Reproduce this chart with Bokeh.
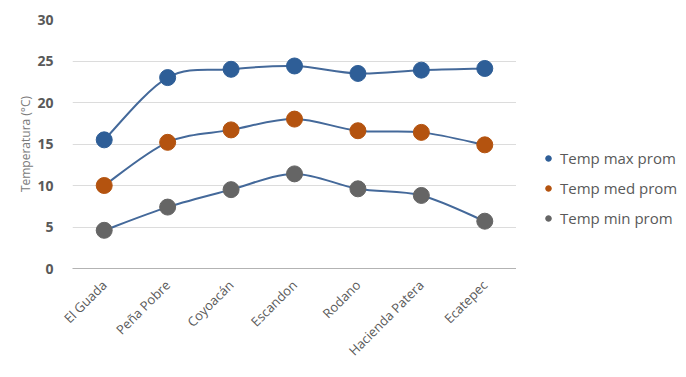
from bokeh.plotting import figure
from bokeh.layouts import row
from bokeh.models import Range1d, FixedTicker, Legend, LegendItem, ColumnDataSource
from bokeh.embed import file_html
from bokeh.resources import INLINE
import math

sites = ["El Guada", "Peña Pobre", "Coyoacán", "Escandon", "Rodano", "Hacienda Patera", "Ecatepec"]
temp_max = [15.5, 23.0, 24.0, 24.4, 23.5, 23.9, 24.1]
temp_med = [10.0, 15.2, 16.7, 18.0, 16.6, 16.4, 14.9]
temp_min = [4.6, 7.4, 9.5, 11.4, 9.6, 8.8, 5.7]
y_ticks = [0, 5, 10, 15, 20, 25, 30]

series = [
    ("Temp max prom", temp_max, "#2E5E97"),
    ("Temp med prom", temp_med, "#B4530F"),
    ("Temp min prom", temp_min, "#656565"),
]
line_color = "#44699A"
FONT = "Open Sans"

xs = list(range(len(sites)))

p = figure(width=516, height=377, output_backend="svg", toolbar_location=None,
           x_range=Range1d(-0.5, len(sites) - 0.5), y_range=Range1d(0, 30),
           min_border_left=72, min_border_right=0, min_border_top=19, min_border_bottom=109)
p.outline_line_color = None
p.background_fill_color = "white"
p.border_fill_color = "white"


def smooth(xv, yv):
    n = len(xv)
    P = list(zip(xv, yv))
    x0, y0, x1, y1, cx0, cy0, cx1, cy1 = [], [], [], [], [], [], [], []
    for i in range(n - 1):
        pm = P[i - 1] if i > 0 else P[i]
        pa = P[i]
        pb = P[i + 1]
        pn = P[i + 2] if i + 2 < n else P[i + 1]
        x0.append(pa[0]); y0.append(pa[1])
        x1.append(pb[0]); y1.append(pb[1])
        cx0.append(pa[0] + (pb[0] - pm[0]) / 6); cy0.append(pa[1] + (pb[1] - pm[1]) / 6)
        cx1.append(pb[0] - (pn[0] - pa[0]) / 6); cy1.append(pb[1] - (pn[1] - pa[1]) / 6)
    return dict(x0=x0, y0=y0, x1=x1, y1=y1, cx0=cx0, cy0=cy0, cx1=cx1, cy1=cy1)


for name, vals, col in series:
    src = ColumnDataSource(smooth(xs, vals))
    p.bezier(x0="x0", y0="y0", x1="x1", y1="y1", cx0="cx0", cy0="cy0", cx1="cx1", cy1="cy1",
             source=src, line_color=line_color, line_width=2)
for name, vals, col in series:
    p.scatter(xs, vals, size=16, fill_color=col, line_color=col)

p.xaxis.ticker = FixedTicker(ticks=xs)
p.xaxis.major_label_overrides = {i: s for i, s in enumerate(sites)}
p.xaxis.major_label_orientation = math.pi / 4
p.xaxis.major_tick_line_color = None
p.xaxis.minor_tick_line_color = None
p.xaxis.axis_line_color = "#b3b3b3"
p.xaxis.axis_line_width = 1
p.xaxis.major_label_text_font = FONT
p.xaxis.major_label_text_font_size = "13px"
p.xaxis.major_label_text_color = "#595959"
p.xaxis.major_label_standoff = 8

p.yaxis.ticker = FixedTicker(ticks=y_ticks)
p.yaxis.axis_line_color = None
p.yaxis.major_tick_line_color = None
p.yaxis.minor_tick_line_color = None
p.yaxis.major_label_text_font = FONT
p.yaxis.major_label_text_font_size = "14px"
p.yaxis.major_label_text_font_style = "bold"
p.yaxis.major_label_text_color = "#595959"
p.yaxis.major_label_standoff = 13
p.yaxis.axis_label = "Temperatura (°C)"
p.yaxis.axis_label_text_font = FONT
p.yaxis.axis_label_text_font_size = "12px"
p.yaxis.axis_label_text_font_style = "normal"
p.yaxis.axis_label_text_color = "#7a7a7a"
p.yaxis.axis_label_standoff = 0

p.xgrid.grid_line_color = None
p.ygrid.grid_line_color = "#dcdcdc"
p.ygrid.grid_line_width = 1

# legend panel (the series points lie outside this panel's ranges; only the legend shows)
q = figure(width=170, height=377, output_backend="svg", toolbar_location=None,
           x_range=Range1d(100, 101), y_range=Range1d(100, 101),
           min_border_left=0, min_border_right=0, min_border_top=19, min_border_bottom=109)
q.axis.visible = False
q.grid.visible = False
q.outline_line_color = None
q.background_fill_color = "white"
q.border_fill_color = "white"
items = []
for name, vals, col in series:
    r = q.scatter(xs, vals, size=9, fill_color=col, line_color=col)
    items.append(LegendItem(label=name, renderers=[r]))
legend = Legend(items=items, location=(25, 40), orientation="vertical",
                glyph_width=14, glyph_height=14, label_height=20, spacing=10,
                label_standoff=5, padding=0, margin=0,
                label_text_font=FONT, label_text_font_size="15px", label_text_color="#595959",
                border_line_color=None, background_fill_alpha=0)
q.add_layout(legend, "center")

layout = row(p, q)
open("out.html", "w").write(file_html(layout, INLINE))
